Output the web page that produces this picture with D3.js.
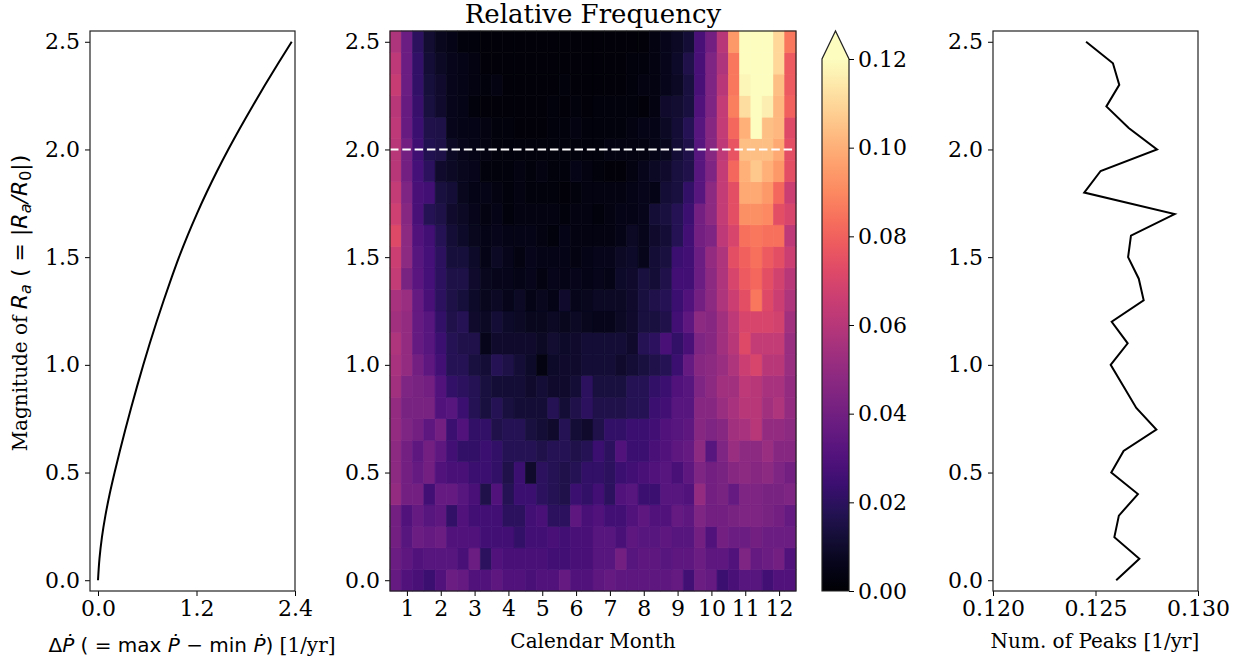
<!DOCTYPE html>
<html>
<head>
<meta charset="utf-8">
<script src="https://cdn.jsdelivr.net/npm/d3@7"></script>
<style>
body { margin: 0; background: #fff; }
text { font-family: "DejaVu Serif", serif; fill: #000; }
.math { font-family: "DejaVu Sans", sans-serif; }
</style>
</head>
<body>
<svg id="fig" width="1252" height="663"></svg>
<script>
// magnitude of R_a (rows of the heat map, y of the side panels)
var magnitudes = [0.0, 0.1, 0.2, 0.3, 0.4, 0.5, 0.6, 0.7, 0.8, 0.9, 1.0, 1.1, 1.2,
                  1.3, 1.4, 1.5, 1.6, 1.7, 1.8, 1.9, 2.0, 2.1, 2.2, 2.3, 2.4, 2.5];

// left panel: delta P-dot for each magnitude
var deltaPdot = [0.000, 0.018, 0.048, 0.090, 0.142, 0.202, 0.266, 0.333, 0.403, 0.476, 0.552,
                 0.631, 0.714, 0.801, 0.892, 0.987, 1.091, 1.203, 1.323, 1.451, 1.587,
                 1.731, 1.881, 2.036, 2.196, 2.360];

// right panel: number of peaks per year
var peaksPerYr = [0.12601, 0.12714, 0.12592, 0.12614, 0.12707, 0.12577, 0.12637, 0.12797, 0.12699,
                  0.12637, 0.12574, 0.12657, 0.12579, 0.12735, 0.12711, 0.12659, 0.12673, 0.12886,
                  0.12445, 0.12525, 0.12800, 0.12662, 0.12553, 0.12616, 0.12585, 0.12454];

// heat map: 3 bins per month (36 columns), one row per magnitude (0.0 first)
var freq = [
  [0.036,0.030,0.028,0.024,0.030,0.038,0.036,0.030,0.030,0.034,0.030,0.030,0.028,0.030,0.030,0.036,0.030,0.030, 0.034,0.036,0.034,0.034,0.034,0.034,0.034,0.036,0.026,0.038,0.036,0.024,0.028,0.032,0.032,0.026,0.030,0.030],
  [0.038,0.034,0.030,0.032,0.032,0.032,0.028,0.038,0.020,0.030,0.028,0.028,0.028,0.028,0.026,0.026,0.028,0.028, 0.032,0.032,0.040,0.032,0.034,0.034,0.032,0.034,0.034,0.038,0.034,0.034,0.030,0.044,0.036,0.038,0.040,0.030],
  [0.040,0.032,0.038,0.036,0.038,0.030,0.030,0.030,0.026,0.026,0.026,0.022,0.026,0.026,0.028,0.026,0.028,0.028, 0.032,0.032,0.028,0.034,0.032,0.032,0.034,0.032,0.032,0.040,0.030,0.040,0.038,0.038,0.040,0.038,0.038,0.038],
  [0.040,0.030,0.036,0.032,0.034,0.022,0.030,0.026,0.026,0.026,0.020,0.020,0.026,0.028,0.020,0.020,0.034,0.028, 0.030,0.026,0.026,0.030,0.034,0.030,0.030,0.036,0.034,0.044,0.040,0.040,0.042,0.044,0.044,0.042,0.040,0.036],
  [0.050,0.040,0.040,0.026,0.036,0.036,0.032,0.028,0.016,0.030,0.018,0.024,0.024,0.020,0.018,0.016,0.024,0.022, 0.026,0.020,0.030,0.032,0.024,0.024,0.032,0.032,0.030,0.050,0.040,0.042,0.036,0.044,0.044,0.042,0.042,0.044],
  [0.048,0.040,0.036,0.040,0.030,0.028,0.028,0.024,0.024,0.022,0.016,0.024,0.010,0.020,0.018,0.016,0.018,0.022, 0.022,0.020,0.024,0.026,0.028,0.030,0.032,0.028,0.034,0.044,0.040,0.042,0.046,0.048,0.046,0.048,0.044,0.040],
  [0.048,0.040,0.034,0.040,0.034,0.026,0.022,0.022,0.024,0.022,0.018,0.018,0.018,0.016,0.018,0.018,0.016,0.018, 0.024,0.020,0.030,0.024,0.024,0.028,0.030,0.034,0.036,0.048,0.032,0.044,0.052,0.048,0.048,0.052,0.046,0.046],
  [0.050,0.044,0.040,0.034,0.040,0.024,0.030,0.022,0.022,0.016,0.018,0.018,0.014,0.012,0.010,0.018,0.012,0.010, 0.016,0.022,0.022,0.024,0.024,0.026,0.030,0.032,0.034,0.046,0.044,0.046,0.054,0.056,0.060,0.050,0.050,0.048],
  [0.050,0.042,0.042,0.042,0.030,0.032,0.024,0.018,0.014,0.018,0.014,0.012,0.012,0.012,0.018,0.012,0.016,0.020, 0.016,0.016,0.016,0.018,0.018,0.024,0.026,0.032,0.032,0.046,0.046,0.052,0.056,0.060,0.060,0.054,0.058,0.050],
  [0.054,0.044,0.042,0.040,0.030,0.022,0.020,0.018,0.014,0.012,0.012,0.012,0.010,0.012,0.010,0.010,0.012,0.020, 0.014,0.014,0.014,0.018,0.018,0.022,0.024,0.030,0.032,0.044,0.048,0.054,0.054,0.062,0.060,0.056,0.056,0.050],
  [0.056,0.050,0.040,0.034,0.026,0.018,0.018,0.014,0.012,0.018,0.015,0.012,0.009,0.004,0.009,0.010,0.010,0.012, 0.012,0.012,0.010,0.012,0.014,0.016,0.018,0.024,0.036,0.046,0.048,0.052,0.058,0.066,0.070,0.060,0.060,0.052],
  [0.058,0.050,0.036,0.032,0.024,0.018,0.016,0.016,0.006,0.010,0.010,0.010,0.010,0.008,0.011,0.009,0.010,0.012, 0.012,0.012,0.012,0.010,0.018,0.020,0.028,0.022,0.028,0.044,0.046,0.054,0.060,0.072,0.064,0.064,0.064,0.052],
  [0.054,0.050,0.036,0.032,0.022,0.016,0.018,0.010,0.008,0.012,0.009,0.008,0.007,0.007,0.008,0.007,0.008,0.007, 0.006,0.006,0.008,0.010,0.014,0.014,0.016,0.026,0.034,0.048,0.046,0.054,0.062,0.070,0.070,0.070,0.068,0.054],
  [0.056,0.052,0.036,0.028,0.020,0.015,0.013,0.009,0.007,0.008,0.006,0.008,0.005,0.007,0.005,0.010,0.006,0.007, 0.008,0.008,0.008,0.010,0.014,0.016,0.018,0.024,0.030,0.040,0.048,0.058,0.066,0.074,0.086,0.072,0.066,0.058],
  [0.064,0.042,0.033,0.027,0.020,0.015,0.015,0.010,0.007,0.006,0.006,0.005,0.006,0.004,0.006,0.005,0.006,0.005, 0.006,0.005,0.009,0.010,0.014,0.012,0.016,0.026,0.026,0.038,0.048,0.058,0.070,0.078,0.082,0.074,0.068,0.060],
  [0.066,0.048,0.032,0.027,0.020,0.013,0.013,0.009,0.005,0.008,0.006,0.004,0.006,0.005,0.005,0.005,0.004,0.005, 0.006,0.006,0.008,0.009,0.006,0.012,0.014,0.024,0.026,0.038,0.050,0.058,0.074,0.080,0.084,0.078,0.074,0.066],
  [0.072,0.048,0.030,0.026,0.018,0.012,0.009,0.007,0.005,0.006,0.005,0.005,0.005,0.004,0.003,0.005,0.004,0.004, 0.004,0.004,0.005,0.008,0.006,0.010,0.012,0.018,0.026,0.040,0.044,0.062,0.070,0.084,0.086,0.084,0.084,0.062],
  [0.067,0.046,0.028,0.018,0.015,0.010,0.008,0.006,0.004,0.005,0.003,0.004,0.004,0.004,0.004,0.003,0.004,0.004, 0.003,0.004,0.005,0.005,0.006,0.012,0.014,0.018,0.024,0.040,0.048,0.064,0.074,0.092,0.092,0.090,0.074,0.070],
  [0.064,0.044,0.028,0.026,0.014,0.012,0.007,0.005,0.005,0.004,0.003,0.004,0.003,0.003,0.003,0.002,0.003,0.004, 0.004,0.004,0.004,0.005,0.006,0.005,0.012,0.014,0.022,0.032,0.048,0.064,0.074,0.098,0.098,0.094,0.082,0.066],
  [0.060,0.040,0.027,0.020,0.010,0.008,0.007,0.006,0.003,0.003,0.003,0.004,0.003,0.004,0.003,0.003,0.005,0.004, 0.003,0.002,0.002,0.004,0.006,0.008,0.010,0.014,0.016,0.032,0.044,0.064,0.082,0.100,0.106,0.100,0.094,0.074],
  [0.060,0.040,0.025,0.017,0.015,0.008,0.006,0.005,0.004,0.003,0.003,0.003,0.003,0.003,0.003,0.003,0.003,0.003, 0.003,0.004,0.004,0.004,0.004,0.005,0.007,0.012,0.016,0.032,0.046,0.062,0.076,0.104,0.104,0.104,0.098,0.074],
  [0.062,0.037,0.024,0.016,0.015,0.006,0.005,0.005,0.004,0.003,0.003,0.002,0.002,0.002,0.003,0.003,0.004,0.003, 0.003,0.003,0.003,0.004,0.005,0.005,0.008,0.012,0.018,0.032,0.046,0.064,0.082,0.100,0.125,0.104,0.102,0.072],
  [0.060,0.037,0.023,0.014,0.010,0.006,0.005,0.003,0.002,0.002,0.002,0.002,0.002,0.002,0.003,0.002,0.003,0.002, 0.003,0.003,0.003,0.003,0.002,0.004,0.010,0.011,0.014,0.030,0.044,0.064,0.088,0.112,0.126,0.116,0.102,0.080],
  [0.065,0.038,0.022,0.013,0.010,0.006,0.005,0.004,0.003,0.004,0.002,0.002,0.002,0.002,0.002,0.003,0.002,0.002, 0.002,0.002,0.002,0.003,0.004,0.004,0.006,0.008,0.014,0.028,0.044,0.060,0.086,0.118,0.126,0.124,0.104,0.078],
  [0.062,0.038,0.022,0.012,0.008,0.006,0.005,0.004,0.002,0.002,0.002,0.002,0.002,0.002,0.002,0.002,0.002,0.002, 0.002,0.002,0.002,0.003,0.003,0.004,0.006,0.009,0.016,0.028,0.044,0.058,0.086,0.126,0.130,0.126,0.110,0.078],
  [0.058,0.038,0.020,0.011,0.007,0.005,0.003,0.003,0.002,0.002,0.002,0.002,0.002,0.002,0.002,0.002,0.002,0.002, 0.002,0.002,0.002,0.002,0.002,0.004,0.006,0.008,0.012,0.028,0.040,0.060,0.094,0.125,0.128,0.125,0.110,0.086]
];

var monthTicks = [1, 2, 3, 4, 5, 6, 7, 8, 9, 10, 11, 12];
var magTicks = [0.0, 0.5, 1.0, 1.5, 2.0, 2.5];
var dpTicks = [0.0, 1.2, 2.4];
var peakTicks = [0.120, 0.125, 0.130];
var cbarTicks = [0.00, 0.02, 0.04, 0.06, 0.08, 0.10, 0.12];
var binsPerMonth = 3;
var threshold = 2.0;

var svg = d3.select("#fig");
var plotTop = 31, plotBottom = 591;
var fs = 20, tickFs = 22;

var y = d3.scaleLinear().domain([-0.05, 2.55]).range([plotBottom, plotTop]);

function styleAxis(g) {
    g.select(".domain").remove();
    g.selectAll(".tick line").attr("stroke", "#000").attr("stroke-width", 1);
    g.selectAll(".tick text").style("font-size", tickFs + "px")
        .style("font-family", "DejaVu Serif").attr("fill", "#000");
}

function frame(x0, x1) {
    svg.append("rect").attr("x", x0).attr("y", plotTop)
        .attr("width", x1 - x0).attr("height", plotBottom - plotTop)
        .attr("fill", "none").attr("stroke", "#222").attr("stroke-width", 1.2);
}

// ---------- left panel ----------
var xL = d3.scaleLinear().domain([-0.0975, 2.4]).range([90, 295]);

var lineL = d3.line()
    .x(function (d, i) { return xL(deltaPdot[i]); })
    .y(function (d) { return y(d); })
    .curve(d3.curveMonotoneY);

svg.append("path").datum(magnitudes)
    .attr("d", lineL).attr("fill", "none")
    .attr("stroke", "#000").attr("stroke-width", 2);

svg.append("g").attr("transform", "translate(90,0)")
    .call(d3.axisLeft(y).tickValues(magTicks).tickFormat(d3.format(".1f")).tickSize(5).tickPadding(5))
    .call(styleAxis);
svg.append("g").attr("transform", "translate(0," + plotBottom + ")")
    .call(d3.axisBottom(xL).tickValues(dpTicks).tickFormat(d3.format(".1f")).tickSize(5).tickPadding(4))
    .call(styleAxis);
frame(90, 295);

var yl = svg.append("text").attr("transform", "translate(27,303) rotate(-90)")
    .attr("text-anchor", "middle").style("font-size", fs + "px");
yl.append("tspan").text("Magnitude of ");
yl.append("tspan").attr("class", "math").style("font-size", "22px").style("font-style", "italic").text("R");
yl.append("tspan").attr("class", "math").style("font-style", "italic").style("font-size", "16px").attr("dy", 4).text("a");
yl.append("tspan").attr("class", "math").style("font-size", "22px").attr("dy", -4).text(" ( = |");
yl.append("tspan").attr("class", "math").style("font-size", "22px").style("font-style", "italic").text("R");
yl.append("tspan").attr("class", "math").style("font-style", "italic").style("font-size", "16px").attr("dy", 4).text("a");
yl.append("tspan").attr("class", "math").style("font-size", "22px").style("font-style", "italic").attr("dy", -4).text("/R");
yl.append("tspan").attr("class", "math").style("font-size", "16px").attr("dy", 4).text("0");
yl.append("tspan").attr("class", "math").style("font-size", "22px").attr("dy", -4).text("|)");

var xl = svg.append("text").attr("x", 192).attr("y", 652)
    .attr("text-anchor", "middle").style("font-size", fs + "px");
xl.append("tspan").attr("class", "math").text("Δ");
xl.append("tspan").attr("class", "math").style("font-style", "italic").text("Ṗ");
xl.append("tspan").attr("class", "math").text(" ( = max ");
xl.append("tspan").attr("class", "math").style("font-style", "italic").text("Ṗ");
xl.append("tspan").attr("class", "math").text(" − min ");
xl.append("tspan").attr("class", "math").style("font-style", "italic").text("Ṗ");
xl.append("tspan").attr("class", "math").text(")");
xl.append("tspan").text(" [1/yr]");

// ---------- heat map ----------
var xH = d3.scaleLinear().domain([0.5, 12.5]).range([390, 796]);
var color = d3.scaleSequential(d3.interpolateMagma).domain([0, 0.12]).clamp(true);

var cells = [];
freq.forEach(function (row, r) {
    row.forEach(function (v, c) {
        cells.push({m: magnitudes[r], c: c, v: v});
    });
});

svg.append("g").selectAll("rect").data(cells).enter().append("rect")
    .attr("x", function (d) { return xH(0.5 + d.c / binsPerMonth); })
    .attr("width", function (d) { return xH(0.5 + (d.c + 1) / binsPerMonth) - xH(0.5 + d.c / binsPerMonth); })
    .attr("y", function (d) { return y(d.m + 0.05); })
    .attr("height", function (d) { return y(d.m - 0.05) - y(d.m + 0.05); })
    .attr("fill", function (d) { return color(d.v); })
    .attr("stroke", function (d) { return color(d.v); })
    .attr("stroke-width", 0.6);

svg.append("line")
    .attr("x1", xH(0.5)).attr("x2", xH(12.5))
    .attr("y1", y(threshold)).attr("y2", y(threshold))
    .attr("stroke", "#fff").attr("stroke-width", 2)
    .attr("stroke-dasharray", "8.5,3.8");

svg.append("g").attr("transform", "translate(390,0)")
    .call(d3.axisLeft(y).tickValues(magTicks).tickFormat(d3.format(".1f")).tickSize(5).tickPadding(5))
    .call(styleAxis);
svg.append("g").attr("transform", "translate(0," + plotBottom + ")")
    .call(d3.axisBottom(xH).tickValues(monthTicks).tickFormat(d3.format("d")).tickSize(5).tickPadding(4))
    .call(styleAxis);
frame(390, 796);

svg.append("text").attr("x", 593).attr("y", 23).attr("text-anchor", "middle")
    .style("font-size", "26px").text("Relative Frequency");
svg.append("text").attr("x", 593).attr("y", 648).attr("text-anchor", "middle")
    .style("font-size", fs + "px").text("Calendar Month");

// ---------- colour bar ----------
var cb = {x: 822, w: 27, top: 59, apex: 31};
var yC = d3.scaleLinear().domain([0, 0.12]).range([plotBottom, cb.top]);

var grad = svg.append("defs").append("linearGradient")
    .attr("id", "cbgrad").attr("x1", 0).attr("y1", 1).attr("x2", 0).attr("y2", 0);
d3.range(0, 1.0001, 0.05).forEach(function (t) {
    grad.append("stop").attr("offset", t).attr("stop-color", d3.interpolateMagma(t));
});

svg.append("rect").attr("x", cb.x).attr("y", cb.top)
    .attr("width", cb.w).attr("height", plotBottom - cb.top).attr("fill", "url(#cbgrad)");
svg.append("path")
    .attr("d", "M" + cb.x + "," + cb.top + "L" + (cb.x + cb.w / 2) + "," + cb.apex + "L" + (cb.x + cb.w) + "," + cb.top + "Z")
    .attr("fill", d3.interpolateMagma(1));
svg.append("path")
    .attr("d", "M" + cb.x + "," + plotBottom + "L" + cb.x + "," + cb.top + "L" + (cb.x + cb.w / 2) + "," + cb.apex +
        "L" + (cb.x + cb.w) + "," + cb.top + "L" + (cb.x + cb.w) + "," + plotBottom + "Z")
    .attr("fill", "none").attr("stroke", "#222").attr("stroke-width", 1.2);

svg.append("g").attr("transform", "translate(" + (cb.x + cb.w) + ",0)")
    .call(d3.axisRight(yC).tickValues(cbarTicks).tickFormat(d3.format(".2f")).tickSize(5).tickPadding(4))
    .call(styleAxis);

// ---------- right panel ----------
var xR = d3.scaleLinear().domain([0.120, 0.130]).range([993, 1198]);

var lineR = d3.line()
    .x(function (d, i) { return xR(peaksPerYr[i]); })
    .y(function (d) { return y(d); });

svg.append("path").datum(magnitudes)
    .attr("d", lineR).attr("fill", "none")
    .attr("stroke", "#000").attr("stroke-width", 2);

svg.append("g").attr("transform", "translate(993,0)")
    .call(d3.axisLeft(y).tickValues(magTicks).tickFormat(d3.format(".1f")).tickSize(5).tickPadding(5))
    .call(styleAxis);
svg.append("g").attr("transform", "translate(0," + plotBottom + ")")
    .call(d3.axisBottom(xR).tickValues(peakTicks).tickFormat(d3.format(".3f")).tickSize(5).tickPadding(4))
    .call(styleAxis);
frame(993, 1198);

svg.append("text").attr("x", 1095).attr("y", 648).attr("text-anchor", "middle")
    .style("font-size", fs + "px").text("Num. of Peaks [1/yr]");
</script>
</body>
</html>
